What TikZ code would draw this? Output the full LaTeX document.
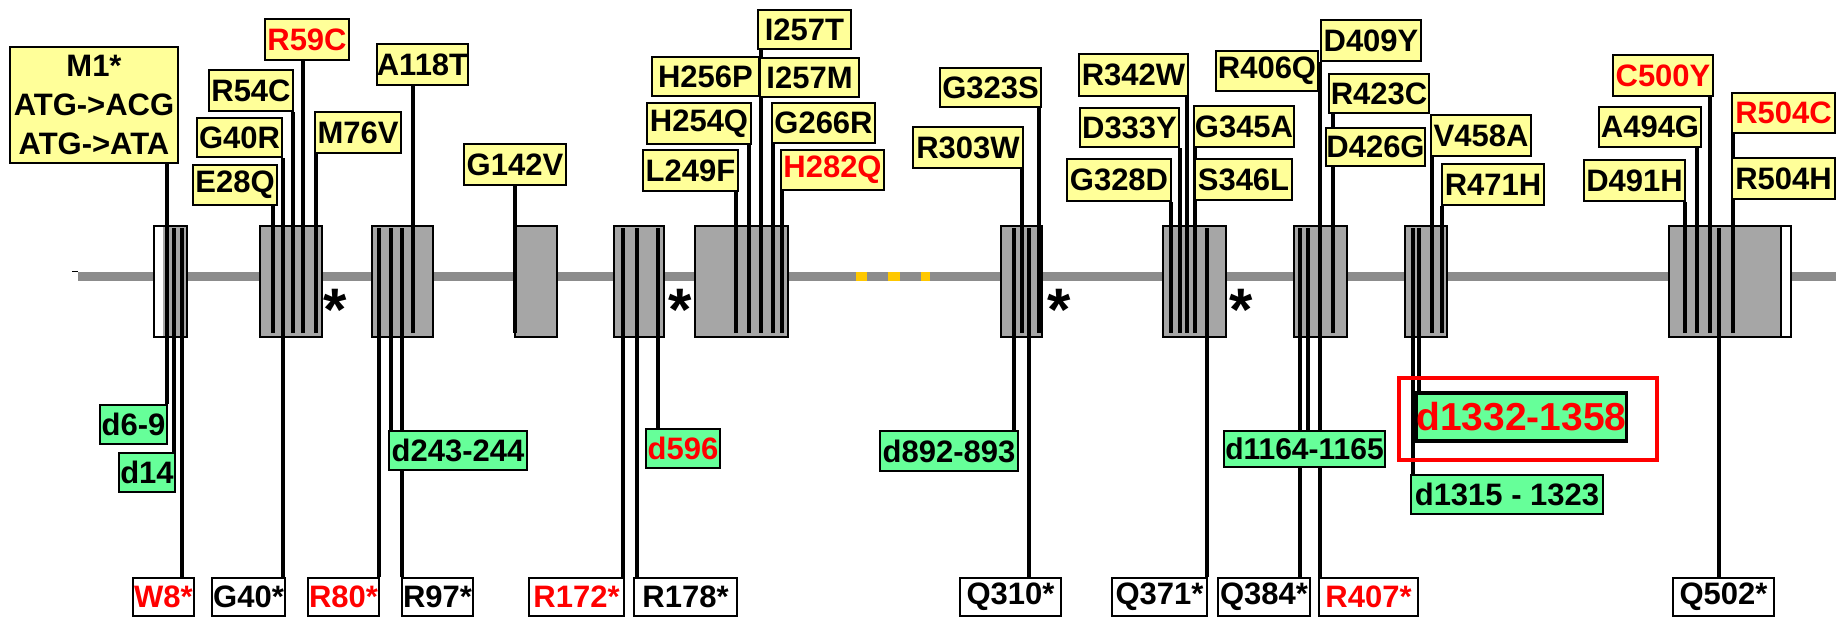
\documentclass[tikz,border=0pt]{standalone}
\usepackage{fontspec}
\setmainfont{Liberation Sans}

\definecolor{boxyellow}{HTML}{FFFF99}
\definecolor{boxgreen}{HTML}{66FF99}
\definecolor{exongray}{HTML}{A6A6A6}
\definecolor{axisgray}{HTML}{8C8C8C}
\definecolor{dotgold}{HTML}{FFC800}
\definecolor{mutred}{HTML}{FF0000}

\pgfdeclarelayer{back}
\pgfdeclarelayer{mid}
\pgfsetlayers{back,mid,main}

% label box given by its corners (x1,y1)-(x2,y2)
\newcommand\putbox[7]{\node[#2,minimum width={(#5-#3)*0.5pt},minimum height={(#6-#4)*0.5pt}] (#1) at ({(#3+#5)/2},{(#4+#6)/2}) {#7};}
% connector from a label above the gene down into its exon
\newcommand\toplink[3]{\coordinate (#1) at (#2,333); \draw[conn] (#3.south -| #1) -- (#1);}
% connector from a label below the gene up into its exon
\newcommand\botlink[3]{\coordinate (#1) at (#2,228); \draw[conn] (#3.north -| #1) -- (#1);}

\begin{document}
\begin{tikzpicture}[x=0.5pt,y=-0.5pt,
  lbl/.style={draw=black, line width=1pt, inner sep=0pt,
    font=\fontsize{15.5}{19.5}\selectfont\bfseries},
  ybox/.style={lbl, fill=boxyellow},
  gbox/.style={lbl, fill=boxgreen},
  wbox/.style={lbl, fill=white},
  redtxt/.style={text=mutred},
  conn/.style={line width=1.7pt, draw=black},
  exon/.style={draw=black, line width=0.7pt, fill=exongray},
  star/.style={font=\fontsize{30}{30}\selectfont\bfseries, inner sep=0pt, anchor=base}]

\useasboundingbox (0,0) rectangle (1836,617);

% ---- mutation labels above the gene ----
\putbox{m1}{ybox,align=center}{10}{47}{178}{163}{M1*\\ATG->ACG\\ATG->ATA}
\putbox{e28q}{ybox}{193}{165}{277}{205}{E28Q}
\putbox{g40r}{ybox}{197}{118}{282}{157}{G40R}
\putbox{r54c}{ybox}{209}{70}{293}{111}{R54C}
\putbox{r59c}{ybox,redtxt}{265}{19}{349}{60}{R59C}
\putbox{m76v}{ybox}{315}{112}{401}{153}{M76V}
\putbox{a118t}{ybox}{381}{44}{464}{85}{A118T}
\putbox{g142v}{ybox}{464}{144}{566}{185}{G142V}
\putbox{l249f}{ybox}{643}{150}{738}{191}{L249F}
\putbox{h254q}{ybox}{647}{103}{751}{144}{H254Q}
\putbox{h256p}{ybox}{652}{57}{759}{96}{H256P}
\putbox{i257t}{ybox}{758}{10}{851}{49}{I257T}
\putbox{i257m}{ybox}{760}{58}{859}{97}{I257M}
\putbox{g266r}{ybox}{772}{103}{875}{143}{G266R}
\putbox{h282q}{ybox,redtxt}{781}{150}{884}{190}{H282Q}
\putbox{r303w}{ybox}{913}{127}{1023}{168}{R303W}
\putbox{g323s}{ybox}{940}{68}{1041}{107}{G323S}
\putbox{g328d}{ybox}{1067}{159}{1171}{201}{G328D}
\putbox{d333y}{ybox}{1080}{108}{1179}{147}{D333Y}
\putbox{r342w}{ybox}{1079}{54}{1188}{96}{R342W}
\putbox{g345a}{ybox}{1194}{106}{1294}{147}{G345A}
\putbox{s346l}{ybox}{1195}{159}{1292}{200}{S346L}
\putbox{r406q}{ybox}{1216}{51}{1318}{91}{R406Q}
\putbox{d409y}{ybox}{1321}{20}{1421}{61}{D409Y}
\putbox{r423c}{ybox}{1329}{74}{1429}{113}{R423C}
\putbox{d426g}{ybox}{1328}{128}{1423}{166}{D426G}
\putbox{v458a}{ybox}{1431}{115}{1531}{156}{V458A}
\putbox{r471h}{ybox}{1442}{164}{1544}{205}{R471H}
\putbox{d491h}{ybox}{1584}{160}{1685}{201}{D491H}
\putbox{a494g}{ybox}{1599}{107}{1701}{147}{A494G}
\putbox{c500y}{ybox,redtxt}{1613}{55}{1713}{96}{C500Y}
\putbox{r504c}{ybox,redtxt}{1732}{93}{1835}{133}{R504C}
\putbox{r504h}{ybox}{1732}{158}{1835}{199}{R504H}

% ---- small deletions ----
\putbox{d69}{gbox}{100}{405}{167}{444}{d6-9}
\putbox{d14}{gbox}{119}{453}{175}{492}{d14}
\putbox{d243}{gbox}{389}{431}{527}{470}{d243-244}
\putbox{d596}{gbox,redtxt}{646}{429}{720}{468}{d596}
\putbox{d892}{gbox}{880}{431}{1018}{471}{d892-893}
\putbox{d1164}{gbox,font=\fontsize{15}{19.5}\selectfont\bfseries}{1224}{431}{1385}{467}{d1164-1165}
\putbox{hl}{draw=mutred,line width=1.75pt,inner sep=0pt}{1399}{378}{1657}{460}{}
\putbox{d1332}{gbox,redtxt,line width=1.6pt,font=\fontsize{19.5}{19.5}\selectfont\bfseries}{1419}{393}{1624}{441}{d1332-1358}
\putbox{d1315}{gbox}{1411}{475}{1603}{514}{d1315 - 1323}

% ---- nonsense mutations below the gene ----
\putbox{w8}{wbox,redtxt}{133}{578}{194}{616}{W8*}
\putbox{g40s}{wbox}{212}{578}{285}{616}{G40*}
\putbox{r80s}{wbox,redtxt}{308}{578}{379}{616}{R80*}
\putbox{r97s}{wbox}{402}{578}{473}{616}{R97*}
\putbox{r172s}{wbox,redtxt}{529}{578}{624}{616}{R172*}
\putbox{r178s}{wbox}{634}{578}{737}{616}{R178*}
\putbox{q310s}{wbox}{960}{578}{1061}{616}{Q310*}
\putbox{q371s}{wbox}{1112}{578}{1207}{616}{Q371*}
\putbox{q384s}{wbox}{1218}{578}{1310}{616}{Q384*}
\putbox{r407s}{wbox,redtxt}{1319}{578}{1418}{616}{R407*}
\putbox{q502s}{wbox}{1673}{578}{1774}{616}{Q502*}

% ---- splice-site marks ----
\node[star] (s1) at (335,330) {*};
\node[star] (s2) at (680,330) {*};
\node[star] (s3) at (1059,330) {*};
\node[star] (s4) at (1241,330) {*};

% ---- gene backbone and exons ----
\begin{pgfonlayer}{back}
  \fill[axisgray] (78,272) rectangle (1836,281);
  \draw[line width=0.6pt] (72,271.5) -- (78,271.5);
  \fill[dotgold] (856,272) rectangle (867,281);
  \fill[dotgold] (888,272) rectangle (900,281);
  \fill[dotgold] (921,272) rectangle (930,281);
  % exon 1 with its untranslated part
  \fill[white] (154,226) rectangle (163,337);
  \fill[exongray] (163,226) rectangle (187,337);
  \draw[line width=0.7pt] (154,226) rectangle (187,337);
  \draw[exon] (260,226) rectangle (322,337);
  \draw[exon] (372,226) rectangle (433,337);
  \draw[exon] (515,226) rectangle (557,337);
  \draw[exon] (614,226) rectangle (664,337);
  \draw[exon] (695,226) rectangle (788,337);
  \draw[exon] (1001,226) rectangle (1042,337);
  \draw[exon] (1163,226) rectangle (1226,337);
  \draw[exon] (1294,226) rectangle (1347,337);
  \draw[exon] (1405,226) rectangle (1447,337);
  % last exon with its untranslated part
  \fill[exongray] (1669,226) rectangle (1781,337);
  \fill[white] (1781,226) rectangle (1791,337);
  \draw[line width=0.7pt] (1669,226) rectangle (1791,337);
  \draw[line width=0.9pt] (1781,226) -- (1781,337);
\end{pgfonlayer}

% ---- connectors ----
\begin{pgfonlayer}{mid}
  \toplink{tm1}{167}{m1}
  \toplink{te28q}{273}{e28q}
  \toplink{tg40r}{283}{g40r}
  \toplink{tr54c}{293}{r54c}
  \toplink{tr59c}{303}{r59c}
  \toplink{tm76v}{316}{m76v}
  \toplink{ta118t}{413}{a118t}
  \toplink{tg142v}{515}{g142v}
  \toplink{tl249f}{736}{l249f}
  \toplink{th254q}{749}{h254q}
  \toplink{ti257}{761}{i257t}
  \toplink{tg266r}{773}{g266r}
  \toplink{th282q}{782}{h282q}
  \toplink{tr303w}{1022}{r303w}
  \toplink{tg323s}{1039}{g323s}
  \toplink{tg328d}{1171}{g328d}
  \toplink{td333y}{1180}{d333y}
  \toplink{tr342w}{1187}{r342w}
  \toplink{tg345a}{1195}{g345a}
  \toplink{tr406q}{1320}{d409y}
  \toplink{tr423c}{1333}{r423c}
  \toplink{tv458a}{1432}{v458a}
  \toplink{tr471h}{1442}{r471h}
  \toplink{td491h}{1685}{d491h}
  \toplink{ta494g}{1697}{a494g}
  \toplink{tc500y}{1710}{c500y}
  \toplink{tr504c}{1733}{r504c}

  \botlink{bd69}{167}{d69}
  \botlink{bd14}{174}{d14}
  \botlink{bw8}{182}{w8}
  \botlink{bg40}{283}{g40s}
  \botlink{br80}{379}{r80s}
  \botlink{bd243}{391}{d243}
  \botlink{br97}{402}{r97s}
  \botlink{br172}{623}{r172s}
  \botlink{br178}{637}{r178s}
  \botlink{bd596}{658}{d596}
  \botlink{bd892}{1014}{d892}
  \botlink{bq310}{1029}{q310s}
  \botlink{bq371}{1207}{q371s}
  \botlink{bq384}{1300}{q384s}
  \botlink{bd1164}{1308}{d1164}
  \botlink{br407}{1320}{r407s}
  \botlink{bd1315}{1413}{d1315}
  \botlink{bd1332}{1419}{d1332}
  \botlink{bq502}{1719}{q502s}
\end{pgfonlayer}
\end{tikzpicture}
\end{document}
